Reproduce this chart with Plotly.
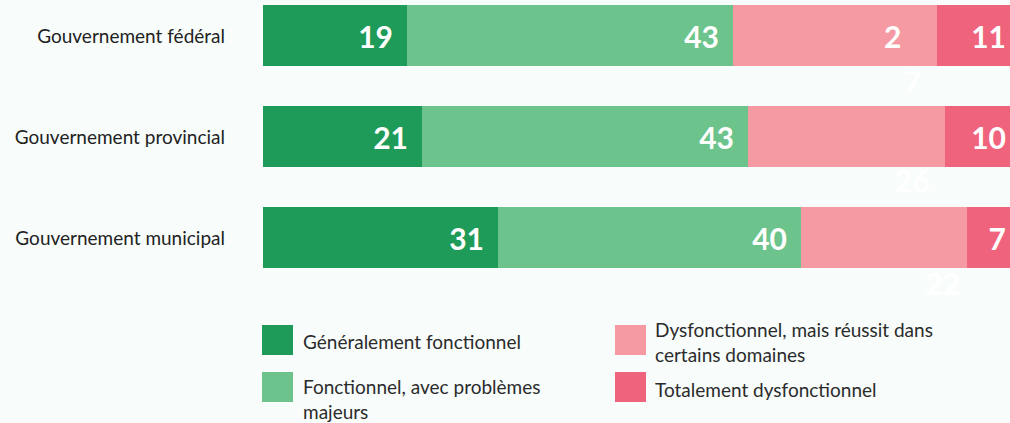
import plotly.graph_objects as go

categories = ["Gouvernement fédéral", "Gouvernement provincial", "Gouvernement municipal"]
series_names = [
    "Généralement fonctionnel",
    "Fonctionnel, avec problèmes majeurs",
    "Dysfonctionnel, mais réussit dans certains domaines",
    "Totalement dysfonctionnel",
]
generalement = [19, 21, 31]
problemes = [43, 43, 40]
reussit = [27, 26, 22]
totalement = [11, 10, 7]

series_values = [generalement, problemes, reussit, totalement]
colors = ["#1E9B58", "#6CC48C", "#F59AA3", "#EF647C"]
BG = "#F8FDFC"
FONT = "Lato, 'Open Sans', sans-serif"
NUMSIZE = 30
TXTSIZE = 19

W, H = 1010, 423
L, T, PB = 263, 0, 290  # plot left px, top px, bottom px

fig = go.Figure()
PAD = "\u00a0\u2009"
for i, (name, vals, col) in enumerate(zip(series_names, series_values, colors)):
    if i == 2:
        txt = ["" for v in vals]
    else:
        txt = [f"{v}{PAD}" for v in vals]
    fig.add_trace(go.Bar(
        y=categories, x=vals, name=name, orientation="h",
        marker=dict(color=col, line=dict(width=0)),
        width=0.604,
        text=txt, textposition="inside", insidetextanchor="end",
        textfont=dict(color="white", size=NUMSIZE, family=FONT, weight="bold"),
        showlegend=False, hoverinfo="x+name",
    ))

# labels of the third series, drawn as they appear in the reference
cum3 = [a + b + c for a, b, c in zip(generalement, problemes, reussit)]
pink_offsets = [  # (xshift, yshift) per category
    (-25, -44), (-32, -43), (-25, -45)
]
numfont = dict(color="white", size=NUMSIZE, family=FONT, weight="bold")
for ci, (cat, end, v) in enumerate(zip(categories, cum3, reussit)):
    s = str(v)
    xs, ys = pink_offsets[ci]
    if ci == 0:
        fig.add_annotation(x=end, y=cat, xref="x", yref="y", text=s[0], showarrow=False,
                           xanchor="right", xshift=-34, font=numfont)
        fig.add_annotation(x=end, y=cat, xref="x", yref="y", text=s[1], showarrow=False,
                           xanchor="center", xshift=xs, yshift=ys, font=numfont)
    else:
        fig.add_annotation(x=end, y=cat, xref="x", yref="y", text=s, showarrow=False,
                           xanchor="center", xshift=xs, yshift=ys, font=numfont)

# custom legend
plot_w = W - L
plot_h = PB - T
def px(xp):
    return (xp - L) / plot_w
def py(yp):
    return (PB - yp) / plot_h

legend_items = [
    # (square x0, square y0, text x, text y center, label)
    (262, 325, 301, 341, "Généralement fonctionnel"),
    (262, 372, 301, 399, "Fonctionnel, avec problèmes<br>majeurs"),
    (615, 325, 653, 342, "Dysfonctionnel, mais réussit dans<br>certains domaines"),
    (615, 372, 653, 389, "Totalement dysfonctionnel"),
]
for (sx, sy, tx, ty, lab), col in zip(legend_items, colors):
    fig.add_shape(type="rect", xref="paper", yref="paper",
                  x0=px(sx), x1=px(sx + 31), y0=py(sy), y1=py(sy + 30),
                  fillcolor=col, line=dict(width=0))
    fig.add_annotation(xref="paper", yref="paper", x=px(tx), y=py(ty), text=lab,
                       showarrow=False, xanchor="left", yanchor="middle", align="left",
                       font=dict(size=TXTSIZE, color="#2B2B2B", family=FONT))

fig.update_layout(
    barmode="stack",
    width=W, height=H,
    margin=dict(l=L, r=0, t=T, b=H - PB, pad=0),
    paper_bgcolor=BG, plot_bgcolor=BG,
    bargap=0,
)
fig.update_xaxes(range=[0, 98.64], showgrid=False, zeroline=False, showticklabels=False,
                 showline=False, fixedrange=True)
fig.update_yaxes(range=[2.515, -0.356], showgrid=False, zeroline=False, showline=False,
                 ticks="", ticklabelstandoff=37,
                 tickfont=dict(size=TXTSIZE, color="#222222", family=FONT), fixedrange=True)

fig.write_html(
    "out.html",
    config={"displayModeBar": False},
    post_script="document.body.style.margin='0';document.body.style.overflow='hidden';"
                "document.body.style.background='" + BG + "';",
)
